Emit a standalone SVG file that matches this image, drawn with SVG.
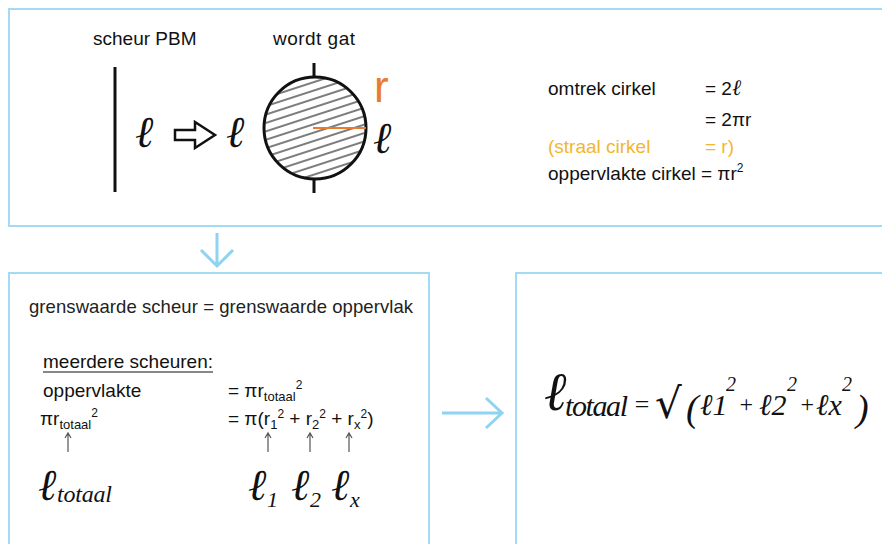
<svg xmlns="http://www.w3.org/2000/svg" width="882" height="544" viewBox="0 0 882 544">
<style>
.box{fill:#fff;stroke:#A3DBF4;stroke-width:2}
.t{font-family:"Liberation Sans",Arial,sans-serif;font-size:19px;fill:#111}
.h{font-family:"Liberation Sans",Arial,sans-serif;font-size:18.5px;fill:#222}
.s{font-family:"Liberation Serif","DejaVu Serif",serif;font-style:italic;fill:#111}
.conn{fill:none;stroke:#8ED4F2;stroke-width:3;stroke-linecap:butt}
.up{stroke:#555;stroke-width:1.2;fill:none}
.gold{fill:#F2B630}
</style>
<defs>
<pattern id="hatch" patternUnits="userSpaceOnUse" width="12" height="8" patternTransform="rotate(-18 315 128)">
<line x1="0" y1="4" x2="12" y2="4" stroke="#111" stroke-width="1.1"/>
</pattern>
<clipPath id="cc"><circle cx="315" cy="128" r="50"/></clipPath>
</defs>
<rect width="882" height="544" fill="#fff"/>

<g id="top">
<rect class="box" x="9" y="9" width="890" height="217"/>
<text class="t" x="93" y="45" font-size="18">scheur PBM</text>
<text class="t" x="273" y="45" font-size="18" textLength="82">wordt gat</text>
<line x1="115" y1="67" x2="115" y2="192" stroke="#111" stroke-width="3"/>
<text class="s" x="135" y="147" font-size="44">ℓ</text>
<polygon points="175,130 195,130 195,122 215,135 195,148 195,140 175,140" fill="#fff" stroke="#111" stroke-width="2.5" stroke-linejoin="miter"/>
<text class="s" x="226" y="147" font-size="44">ℓ</text>
<rect x="260" y="74" width="110" height="110" fill="url(#hatch)" clip-path="url(#cc)"/>
<circle cx="315" cy="128" r="51" fill="none" stroke="#111" stroke-width="3"/>
<line x1="314" y1="63" x2="314" y2="77" stroke="#111" stroke-width="3"/>
<line x1="314" y1="179" x2="314" y2="193" stroke="#111" stroke-width="3"/>
<line x1="313" y1="128" x2="366" y2="128" stroke="#EC7A2C" stroke-width="2"/>
<text x="374" y="102" font-family="Liberation Sans,Arial,sans-serif" font-size="44" fill="#EC7A2C">r</text>
<text class="s" x="373" y="153" font-size="44">ℓ</text>
<text class="t" x="548" y="95">omtrek cirkel</text>
<text class="t" x="705" y="95">= 2<tspan class="s" font-size="22">ℓ</tspan></text>
<text class="t" x="705" y="126">= 2πr</text>
<text class="t gold" x="548" y="153">(straal cirkel</text>
<text class="t gold" x="705" y="153">= r)</text>
<text class="t" x="548" y="180">oppervlakte cirkel</text>
<text class="t" x="701" y="180">= πr<tspan font-size="12" dy="-8">2</tspan></text>
</g>

<g id="left">
<rect class="box" x="9" y="273" width="420" height="290"/>
<text class="h" x="29" y="313" textLength="384">grenswaarde scheur = grenswaarde oppervlak</text>
<text class="t" x="43" y="368">meerdere scheuren:</text>
<line x1="43" y1="372" x2="213" y2="372" stroke="#111" stroke-width="1.2"/>
<text class="t" x="43" y="397">oppervlakte</text>
<text class="t" x="228" y="397">= πr<tspan font-size="13" dy="4">totaal</tspan><tspan font-size="12" dy="-12">2</tspan></text>
<text class="t" x="40" y="425">πr<tspan font-size="13" dy="4">totaal</tspan><tspan font-size="12" dy="-12">2</tspan></text>
<text class="t" x="228" y="425">= π(r<tspan font-size="13" dy="4">1</tspan><tspan font-size="12" dy="-11">2</tspan><tspan dy="7"> + r</tspan><tspan font-size="13" dy="4">2</tspan><tspan font-size="12" dy="-11">2</tspan><tspan dy="7"> + r</tspan><tspan font-size="13" dy="4">x</tspan><tspan font-size="12" dy="-11">2</tspan><tspan dy="7">)</tspan></text>
<g class="up">
<path d="M68,452V434M65,438L68,433L71,438"/>
<path d="M268,452V434M265,438L268,433L271,438"/>
<path d="M310,452V434M307,438L310,433L313,438"/>
<path d="M349,452V434M346,438L349,433L352,438"/>
</g>
<text class="s" x="38" y="500" font-size="44">ℓ</text>
<text class="s" x="57" y="502" font-size="24" textLength="55">totaal</text>
<text class="s" x="248" y="500" font-size="44">ℓ</text>
<text class="s" x="267" y="507" font-size="22">1</text>
<text class="s" x="291" y="500" font-size="44">ℓ</text>
<text class="s" x="310" y="507" font-size="22">2</text>
<text class="s" x="331" y="500" font-size="44">ℓ</text>
<text class="s" x="350" y="507" font-size="22">x</text>
</g>

<g id="right">
<rect class="box" x="516" y="273" width="390" height="290"/>
<text class="s" x="544" y="410" font-size="54">ℓ</text>
<text class="s" x="565" y="416" font-size="30" textLength="63">totaal</text>
<text class="s" x="633" y="413" font-size="26">=</text>
<text x="655" y="418" font-family="DejaVu Sans,sans-serif" font-size="42" fill="#111">√</text>
<text class="s" x="686" y="421" font-size="38">(</text>
<text class="s" x="700" y="415" font-size="30">ℓ1</text>
<text class="s" x="726" y="391" font-size="20">2</text>
<text class="s" x="738" y="412" font-size="24">+</text>
<text class="s" x="759" y="415" font-size="30">ℓ2</text>
<text class="s" x="787" y="391" font-size="20">2</text>
<text class="s" x="799" y="412" font-size="24">+</text>
<text class="s" x="816" y="415" font-size="30">ℓx</text>
<text class="s" x="842" y="391" font-size="20">2</text>
<text class="s" x="856" y="421" font-size="38">)</text>
</g>

<g id="connectors">
<path class="conn" d="M217,233V266M201,250L217,266L233,250"/>
<path class="conn" d="M442,413H502M486,398L502,413L486,428"/>
</g>
</svg>
